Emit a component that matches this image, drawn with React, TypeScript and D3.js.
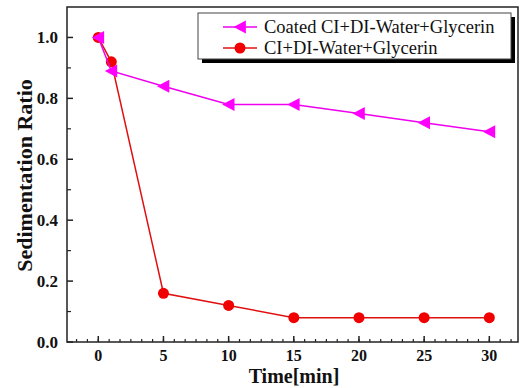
import React, { useRef, useEffect } from "react";
import * as d3 from "d3";

const times = [0, 1, 5, 10, 15, 20, 25, 30];
const coated = [1.0, 0.89, 0.84, 0.78, 0.78, 0.75, 0.72, 0.69];
const uncoated = [1.0, 0.92, 0.16, 0.12, 0.08, 0.08, 0.08, 0.08];
const seriesNames = ["Coated CI+DI-Water+Glycerin", "CI+DI-Water+Glycerin"];
const xTicks = [0, 5, 10, 15, 20, 25, 30];
const yTicks = [0.0, 0.2, 0.4, 0.6, 0.8, 1.0];

const W = 520;
const H = 388;
const margin = { left: 67, top: 7, right: 2, bottom: 46 };
const font = "Liberation Serif, Times New Roman, serif";

function triangle(size: number) {
  const s = size / 2;
  return `M${-s},0L${s * 0.9},${-s}L${s * 0.9},${s}Z`;
}

export default function App() {
  const svgRef = useRef<SVGSVGElement>(null);

  useEffect(() => {
    const svg = d3.select(svgRef.current);
    svg.selectAll("*").remove();

    const x = d3.scaleLinear().domain([-2.4, 32.2]).range([margin.left, W - margin.right]);
    const y = d3.scaleLinear().domain([0, 1.1]).range([H - margin.bottom, margin.top]);
    const x0 = margin.left, x1 = W - margin.right;
    const y0 = H - margin.bottom, y1 = margin.top;

    const g = svg.append("g");

    // frame
    g.append("rect")
      .attr("x", x0).attr("y", y1)
      .attr("width", x1 - x0).attr("height", y0 - y1)
      .attr("fill", "none").attr("stroke", "#222").attr("stroke-width", 1.5);

    // x ticks (inward)
    const xMinor = d3.range(-2.5, 32.2, 5 / 6).filter(v => v > -2.4 && v < 32.2);
    g.selectAll(".xminor").data(xMinor).join("line")
      .attr("x1", d => x(d)).attr("x2", d => x(d))
      .attr("y1", y0).attr("y2", y0 - 3)
      .attr("stroke", "#222").attr("stroke-width", 1.2);
    g.selectAll(".xmajor").data(xTicks).join("line")
      .attr("x1", d => x(d)).attr("x2", d => x(d))
      .attr("y1", y0).attr("y2", y0 - 6)
      .attr("stroke", "#222").attr("stroke-width", 1.5);
    g.selectAll(".xlab").data(xTicks).join("text")
      .attr("x", d => x(d)).attr("y", y0 + 19)
      .attr("text-anchor", "middle")
      .attr("font-family", font).attr("font-weight", "bold").attr("font-size", 16)
      .attr("fill", "#111")
      .text(d => d3.format("d")(d));

    // y ticks (inward)
    const yMinor = d3.range(0.1, 1.1, 0.2);
    g.selectAll(".yminor").data(yMinor).join("line")
      .attr("x1", x0).attr("x2", x0 + 4)
      .attr("y1", d => y(d)).attr("y2", d => y(d))
      .attr("stroke", "#222").attr("stroke-width", 1.2);
    g.selectAll(".ymajor").data(yTicks).join("line")
      .attr("x1", x0).attr("x2", x0 + 6)
      .attr("y1", d => y(d)).attr("y2", d => y(d))
      .attr("stroke", "#222").attr("stroke-width", 1.5);
    g.selectAll(".ylab").data(yTicks).join("text")
      .attr("x", x0 - 9).attr("y", d => y(d) + 6)
      .attr("text-anchor", "end")
      .attr("font-family", font).attr("font-weight", "bold").attr("font-size", 17)
      .attr("fill", "#111")
      .text(d => d3.format(".1f")(d));

    // axis titles
    svg.append("text")
      .attr("x", 294).attr("y", 383)
      .attr("text-anchor", "middle")
      .attr("font-family", font).attr("font-weight", "bold").attr("font-size", 20)
      .attr("fill", "#111")
      .text("Time[min]");
    svg.append("text")
      .attr("transform", `translate(32,175.5) rotate(-90)`)
      .attr("text-anchor", "middle")
      .attr("font-family", font).attr("font-weight", "bold").attr("font-size", 22)
      .attr("fill", "#111")
      .text("Sedimentation Ratio");

    const line = d3.line<number>().x((_, i) => x(times[i])).y(d => y(d));

    // uncoated (red circles)
    g.append("path").datum(uncoated)
      .attr("d", line).attr("fill", "none")
      .attr("stroke", "#e01010").attr("stroke-width", 1.5);
    g.selectAll(".circ").data(uncoated).join("circle")
      .attr("cx", (_, i) => x(times[i])).attr("cy", d => y(d))
      .attr("r", 5.5).attr("fill", "#f00000");

    // coated (magenta triangles)
    g.append("path").datum(coated)
      .attr("d", line).attr("fill", "none")
      .attr("stroke", "#ee00ee").attr("stroke-width", 1.5);
    g.selectAll(".tri").data(coated).join("path")
      .attr("transform", (d, i) => `translate(${x(times[i])},${y(d)})`)
      .attr("d", triangle(13)).attr("fill", "#ff00ff");

    // legend
    const lg = svg.append("g");
    const lx = 198, ly = 13, lw = 313, lh = 46;
    lg.append("rect").attr("x", lx + 4).attr("y", ly + 4).attr("width", lw).attr("height", lh).attr("fill", "#000");
    lg.append("rect").attr("x", lx).attr("y", ly).attr("width", lw).attr("height", lh)
      .attr("fill", "#fff").attr("stroke", "#444").attr("stroke-width", 1);
    const rows = [
      { name: seriesNames[0], color: "#ee00ee", marker: "tri" },
      { name: seriesNames[1], color: "#e01010", marker: "circ" },
    ];
    rows.forEach((r, i) => {
      const cy = ly + 14 + i * 21;
      lg.append("line").attr("x1", lx + 25).attr("x2", lx + 59).attr("y1", cy).attr("y2", cy)
        .attr("stroke", r.color).attr("stroke-width", 1.5);
      if (r.marker === "tri") {
        lg.append("path").attr("transform", `translate(${lx + 42},${cy})`).attr("d", triangle(13)).attr("fill", "#ff00ff");
      } else {
        lg.append("circle").attr("cx", lx + 42).attr("cy", cy).attr("r", 5.5).attr("fill", "#f00000");
      }
      lg.append("text").attr("x", lx + 66).attr("y", cy + 6)
        .attr("font-family", font).attr("font-size", 18.5).attr("fill", "#111")
        .text(r.name);
    });
  }, []);

  return (
    <div style={{ position: "absolute", left: 0, top: 0 }}>
      <svg ref={svgRef} width={W} height={H} style={{ display: "block", background: "#fff" }} />
    </div>
  );
}
